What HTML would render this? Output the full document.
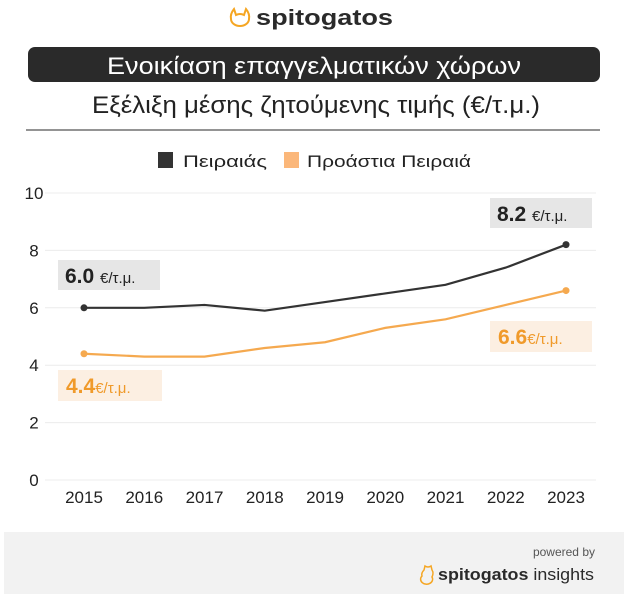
<!DOCTYPE html>
<html><head><meta charset="utf-8"><style>
body{margin:0;width:624px;height:594px;background:#fff;font-family:"Liberation Sans","DejaVu Sans",sans-serif;position:relative;overflow:hidden}
</style></head><body>
<svg width="624" height="594" style="position:absolute;left:0;top:0">
  <g>
    <path d="M234 9 L236 15 Q240 13 244 15 L246 9 Q250 14 249 19 A9 7 0 1 1 231 19 Q230 14 234 9Z" fill="none" stroke="#f5a623" stroke-width="2"/>
    <text x="256" y="25" font-size="22" font-weight="bold" fill="#2a2a2a" textLength="137" lengthAdjust="spacingAndGlyphs">spitogatos</text>
  </g>
  <rect x="28" y="47" width="572" height="35" rx="7" fill="#2a2a2a"/>
  <text x="314" y="74" font-size="24" fill="#fff" text-anchor="middle" textLength="414" lengthAdjust="spacingAndGlyphs">Ενοικίαση επαγγελματικών χώρων</text>
  <text x="316" y="113" font-size="24" fill="#222" text-anchor="middle" textLength="448" lengthAdjust="spacingAndGlyphs">Εξέλιξη μέσης ζητούμενης τιμής (€/τ.μ.)</text>
  <line x1="26" y1="130" x2="600" y2="130" stroke="#555" stroke-width="1.2"/>
  <g>
    <rect x="158" y="152" width="15" height="16" fill="#333"/>
    <text x="183" y="167" font-size="17" fill="#222" textLength="84" lengthAdjust="spacingAndGlyphs">Πειραιάς</text>
    <rect x="284" y="152" width="15" height="16" fill="#fbb77a"/>
    <text x="307" y="167" font-size="17" fill="#222" textLength="164" lengthAdjust="spacingAndGlyphs">Προάστια Πειραιά</text>
  </g>
  <g id="grid"></g><g id="lines"></g>
  <g font-weight="bold">
    <rect x="490" y="198" width="102" height="30" fill="#e6e6e6"/>
    <text x="497" y="221" font-size="21" fill="#222">8.2 <tspan font-size="15" font-weight="normal">€/τ.μ.</tspan></text>
    <rect x="58" y="260" width="102" height="30" fill="#e6e6e6"/>
    <text x="65" y="283" font-size="21" fill="#222">6.0 <tspan font-size="15" font-weight="normal">€/τ.μ.</tspan></text>
    <rect x="490" y="321" width="102" height="31" fill="#fcefe2"/>
    <text x="498" y="344" font-size="21" fill="#f09a2a">6.6<tspan font-size="15" font-weight="normal">€/τ.μ.</tspan></text>
    <rect x="58" y="370" width="104" height="31" fill="#fcefe2"/>
    <text x="66" y="393" font-size="21" fill="#f09a2a">4.4<tspan font-size="15" font-weight="normal">€/τ.μ.</tspan></text>
  </g>
  <rect x="4" y="532" width="620" height="62" fill="#f2f2f2"/>
  <text x="595" y="556" font-size="12" fill="#555" text-anchor="end">powered by</text>
  <path d="M424 570 L425 566 Q428 568 431 566 L432 570 Q434 573 432 577 A6 5 0 1 1 422 576 Q421 573 424 570Z" fill="none" stroke="#f5a623" stroke-width="1.5"/>
  <text x="438" y="580" font-size="17" fill="#2a2a2a" textLength="156" lengthAdjust="spacingAndGlyphs"><tspan font-weight="bold">spitogatos</tspan> insights</text>
</svg>
<script>
const years=["2015","2016","2017","2018","2019","2020","2021","2022","2023"];
const piraeus=[6.0,6.0,6.1,5.9,6.2,6.5,6.8,7.4,8.2];
const suburbs=[4.4,4.3,4.3,4.6,4.8,5.3,5.6,6.1,6.6];
const yTicks=[0,2,4,6,8,10];
const NS="http://www.w3.org/2000/svg";
const x=i=>84+i*60.25;
const y=v=>480-v*28.7;
const g=document.getElementById('grid'),L=document.getElementById('lines');
function mk(t,a,p){const e=document.createElementNS(NS,t);for(const k in a)e.setAttribute(k,a[k]);p.appendChild(e);return e;}
yTicks.forEach(v=>{
  const l=mk('line',{x1:45,x2:596,y1:y(v),y2:y(v),stroke:'#ececec','stroke-width':1},g);
  
  
  const t=mk('text',{x:34,y:y(v)+6,'font-size':17,fill:'#222','text-anchor':'middle'},g);t.textContent=v;
  
  
});
years.forEach((yr,i)=>{
  const t=mk('text',{x:x(i),y:503,'font-size':17,fill:'#222','text-anchor':'middle'},g);t.textContent=yr;
  
  
});
[[piraeus,'#333','piraeus'],[suburbs,'#f5a94f','suburbs']].forEach(([d,c,n])=>{
  const p=mk('polyline',{points:d.map((v,i)=>x(i)+','+y(v)).join(' '),fill:'none',stroke:c,'stroke-width':2.2},L);
  
  
  [0,d.length-1].forEach(i=>{
    const cc=mk('circle',{cx:x(i),cy:y(d[i]),r:3.5,fill:c},L);
    
    
  });
});
</script>
</body></html>
